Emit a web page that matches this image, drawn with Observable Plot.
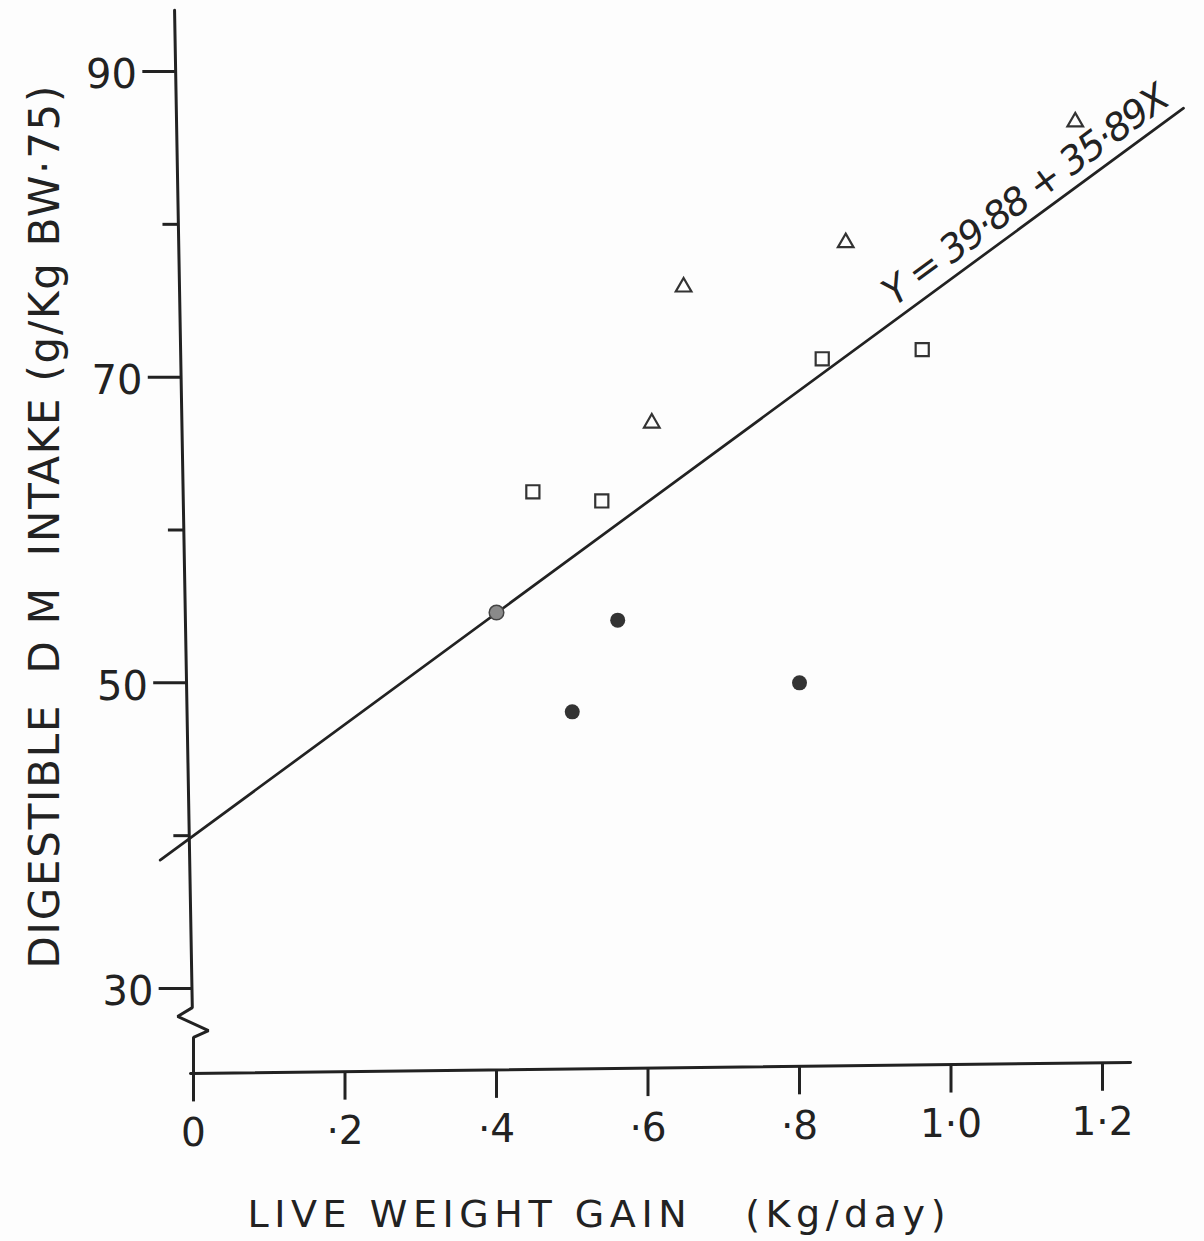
<!DOCTYPE html>
<html>
<head>
<meta charset="utf-8">
<script src="https://cdn.jsdelivr.net/npm/d3@7"></script>
<script src="https://cdn.jsdelivr.net/npm/@observablehq/plot@0.6"></script>
<style>
  html, body { margin: 0; padding: 0; background: #fdfdfd; }
  svg text { white-space: pre; }
</style>
</head>
<body>
<div id="chart"></div>
<script>
// ---- data ----
const xTickValues = [0, 0.2, 0.4, 0.6, 0.8, 1.0, 1.2];
const xTickLabels = ["0", "·2", "·4", "·6", "·8", "1·0", "1·2"];
const yMajorTicks = [90, 70, 50, 30];
const yMajorLabels = ["90", "70", "50", "30"];
const yMinorTicks = [80, 60, 40];

// filled circles (first one is shaded grey in the original)
const circleX = [0.40, 0.50, 0.56, 0.80];
const circleY = [54.6, 48.1, 54.1, 50.0];
const circleShade = ["grey", "dark", "dark", "dark"];
// open squares
const squareX = [0.448, 0.539, 0.830, 0.962];
const squareY = [62.5, 61.9, 71.2, 71.8];
// open triangles
const triangleX = [0.605, 0.647, 0.861, 1.164];
const triangleY = [67.0, 75.9, 78.8, 86.7];

// fitted regression line as drawn (end points)
const fitX = [-0.044, 1.307];
const fitY = [38.4, 87.6];
const equationText = "Y = 39·88 + 35·89X";
const equationAtX = 0.925;

const yTitle = "DIGESTIBLE  D M  INTAKE (g/Kg BW·75)";
const xTitle = "LIVE WEIGHT GAIN   (Kg/day)";

// ---- build tables ----
const circles = circleX.map((x, i) => ({x, y: circleY[i], shade: circleShade[i]}));
const squares = squareX.map((x, i) => ({x, y: squareY[i]}));
const triangles = triangleX.map((x, i) => ({x, y: triangleY[i]}));
const fitLine = fitX.map((x, i) => ({x, y: fitY[i]}));
const fitAt = x => fitY[0] + (x - fitX[0]) * (fitY[1] - fitY[0]) / (fitX[1] - fitX[0]);

// hand-drawn axes: the y axis leans slightly, the x axis rises slightly
const yAxisTop = 94.0, yAxisBottom = 24.4, yLeanTop = -0.025;
const lean = y => yLeanTop * (y - yAxisBottom) / (yAxisTop - yAxisBottom);
const yAxisPath = [
  {x: lean(yAxisTop), y: yAxisTop},
  {x: lean(28.75), y: 28.75},
  {x: -0.021, y: 28.17},
  {x: 0.0198, y: 27.25},
  {x: 0, y: 26.8},
  {x: 0, y: yAxisBottom}
];
const xAxisStart = -0.004, xAxisEnd = 1.237;
const xAxisY = x => 24.44 + (x - xAxisStart) * (0.72 / (xAxisEnd - xAxisStart));
const xAxisPath = [{x: xAxisStart, y: xAxisY(xAxisStart)}, {x: xAxisEnd, y: xAxisY(xAxisEnd)}];

const ink = "#222";
const svg = Plot.plot({
  width: 1204,
  height: 1241,
  marginLeft: 193,
  marginRight: 102,
  marginTop: 71,
  marginBottom: 253,
  x: {domain: [0, 1.2], axis: null},
  y: {domain: [30, 90], axis: null},
  style: {background: "#fdfdfd", color: ink, fontFamily: "DejaVu Sans, sans-serif"},
  marks: [
    // axes
    Plot.line(yAxisPath, {x: "x", y: "y", stroke: ink, strokeWidth: 3, strokeLinejoin: "miter"}),
    Plot.line(xAxisPath, {x: "x", y: "y", stroke: ink, strokeWidth: 3}),
    Plot.link(yMajorTicks, {x1: d => lean(d) - 0.044, x2: d => lean(d), y1: d => d, y2: d => d, stroke: ink, strokeWidth: 3}),
    Plot.link(yMinorTicks, {x1: d => lean(d) - 0.021, x2: d => lean(d), y1: d => d, y2: d => d, stroke: ink, strokeWidth: 3}),
    Plot.link(xTickValues, {x1: d => d, x2: d => d, y1: d => xAxisY(d), y2: d => xAxisY(d) - 1.83, stroke: ink, strokeWidth: 3}),
    Plot.text(yMajorTicks, {
      x: d => lean(d) - 0.051, y: d => d, text: (d, i) => yMajorLabels[i],
      textAnchor: "end", lineAnchor: "middle", dy: 4, fontSize: 40, fill: ink
    }),
    Plot.text(xTickValues, {
      x: d => d, y: d => xAxisY(d) - 4.75, text: (d, i) => xTickLabels[i],
      textAnchor: "middle", lineAnchor: "bottom", fontSize: 39, fill: ink
    }),
    // regression line
    Plot.line(fitLine, {x: "x", y: "y", stroke: ink, strokeWidth: 2.7}),
    // points
    Plot.dot(circles.filter(d => d.shade === "grey"), {x: "x", y: "y", r: 7.3, fill: "#8a8a8a", stroke: "#444", strokeWidth: 1.5}),
    Plot.dot(circles.filter(d => d.shade === "dark"), {x: "x", y: "y", r: 7.5, fill: "#333", stroke: "none"}),
    Plot.dot(squares, {x: "x", y: "y", symbol: "square", r: 7.4, fill: "#fdfdfd", stroke: "#333", strokeWidth: 2.2}),
    Plot.dot(triangles, {x: "x", y: "y", symbol: "triangle", r: 5.8, fill: "#fdfdfd", stroke: "#333", strokeWidth: 2.2}),
    // equation along the line
    Plot.text([equationText], {
      x: () => equationAtX, y: () => fitAt(equationAtX) + 0.9,
      text: d => d, rotate: -36.3, textAnchor: "start", lineAnchor: "bottom",
      fontSize: 38, fontStyle: "italic", fill: ink
    }),
    // axis titles
    Plot.text([yTitle], {
      frameAnchor: "left", dx: -148, dy: -3, text: d => d, rotate: -90,
      textAnchor: "middle", lineAnchor: "middle", fontSize: 42, fill: ink
    }),
    Plot.text([xTitle], {
      frameAnchor: "bottom-left", dx: 247 - 193, dy: 1226 - 988, text: d => d,
      textAnchor: "start", lineAnchor: "bottom", fontSize: 38, fill: ink
    })
  ]
});

const lengths = new Map([[yTitle, 883], [xTitle, 698], [equationText, 345]]);
d3.select(svg).selectAll("text").each(function () {
  const s = this.textContent;
  if (lengths.has(s)) {
    d3.select(this).attr("textLength", lengths.get(s)).attr("lengthAdjust", "spacing");
  }
});

document.getElementById("chart").appendChild(svg);
</script>
</body>
</html>
